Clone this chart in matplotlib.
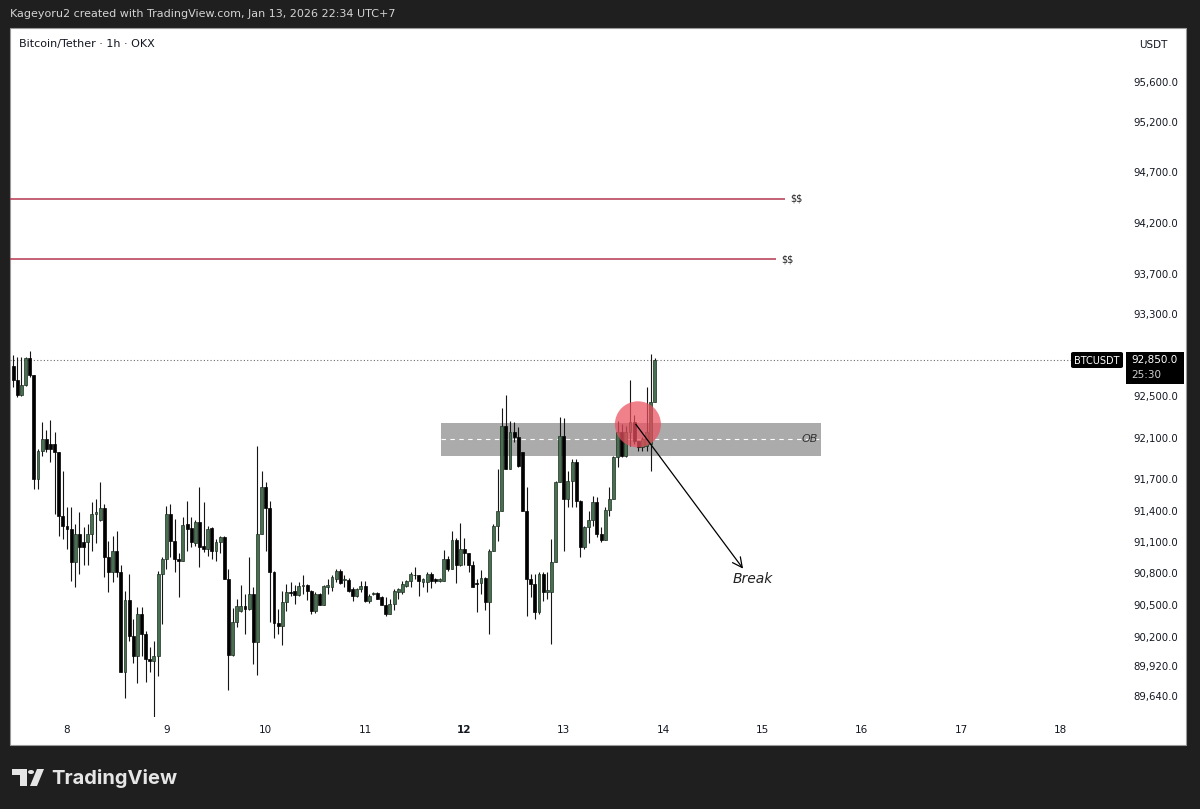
import numpy as np
import pandas as pd
import matplotlib
matplotlib.use('Agg')
import matplotlib.pyplot as plt
import matplotlib.dates as mdates
from matplotlib.patches import Rectangle, Polygon, FancyBboxPatch, Circle
from matplotlib.ticker import FixedLocator, NullLocator, FuncFormatter

# ---------------- data ----------------
start_time = '2026-01-07 11:00'
opens = [92800, 92660, 92515, 92610, 92870, 92705, 91705, 91970, 92085, 92040, 92040, 91960, 91350,
         91255, 91225, 90910, 91180, 91095, 91100, 91180, 91370, 91305, 91425, 90960, 90815, 91015,
         90815, 89870, 90550, 90205, 90015, 90415, 90225, 89985, 89965, 90015, 90795, 90940, 91370,
         91110, 90940, 90920, 91275, 91235, 91085, 91295, 91065, 91035, 91235, 91015, 91100, 91150,
         90750, 90025, 90340, 90445, 90490, 90460, 90605, 90150, 91180, 91630, 91425, 90815, 90330,
         90300, 90530, 90625, 90635, 90595, 90680, 90690, 90635, 90445, 90605, 90500, 90675, 90675,
         90750, 90825, 90740, 90740, 90655, 90585, 90655, 90680, 90540, 90600, 90610, 90575, 90500,
         90415, 90510, 90625, 90625, 90680, 90730, 90785, 90780, 90720, 90720, 90795, 90750, 90730,
         90730, 90940, 90845, 91120, 90875, 91035, 90990, 90875, 90710, 90710, 90760, 90530, 91015,
         91255, 91400, 92210, 91800, 92155, 92105, 91960, 91400, 90750, 90700, 90435, 90795, 90625,
         90625, 90910, 91675, 92115, 91515, 91685, 91865, 91495, 91055, 91245, 91305, 91485, 91180,
         91120, 91410, 91515, 91915, 92160, 91925, 92155, 92250, 92065, 92010, 92020, 92040, 92450]
highs = [92900, 92880, 92880, 92880, 92945, 92710, 91990, 92250, 92180, 92275, 92155, 91965, 91780,
         91435, 91435, 91275, 91390, 91245, 91275, 91485, 91515, 91675, 91465, 91110, 91160, 91200,
         90875, 90635, 90795, 90365, 90480, 90480, 90250, 90100, 90155, 90825, 90960, 91445, 91465,
         91320, 90990, 91340, 91495, 91340, 91305, 91630, 91485, 91255, 91245, 91130, 91155, 91155,
         90845, 90470, 90560, 90690, 90605, 90960, 90675, 92020, 91780, 91675, 91495, 90820, 90460,
         90635, 90700, 90720, 90690, 90720, 90780, 90700, 90640, 90625, 90610, 90685, 90750, 90780,
         90845, 90845, 90780, 90760, 90675, 90660, 90730, 90730, 90605, 90620, 90620, 90585, 90575,
         90560, 90655, 90665, 90730, 90735, 90815, 90865, 90785, 90755, 90815, 90815, 90755, 90760,
         91025, 90970, 91200, 91140, 91285, 91140, 90995, 90920, 90750, 90835, 90765, 91035, 91275,
         91800, 92390, 92515, 92260, 92250, 92200, 91965, 91630, 90795, 90795, 90815, 90815, 90815,
         91130, 91685, 92305, 92295, 91780, 91895, 91895, 91500, 91255, 91400, 91540, 91530, 91245,
         91435, 91630, 91925, 92260, 92230, 92210, 92660, 92325, 92070, 92105, 92590, 92915, 92870]
lows = [92590, 92495, 92505, 92600, 92690, 91610, 91610, 91925, 91960, 91865, 91370, 91160, 91130,
        91035, 90730, 90675, 90795, 90875, 90875, 91015, 91085, 91300, 90770, 90625, 90720, 90770,
        89865, 89620, 90155, 89955, 89765, 90015, 89775, 89870, 89440, 89825, 90320, 90845, 90960,
        90815, 90575, 90915, 91015, 91055, 91065, 90865, 91005, 90970, 90940, 90920, 90990, 90745,
        89700, 90015, 90290, 90435, 90225, 90455, 89945, 89840, 91175, 91015, 90340, 90185, 90225,
        90120, 90445, 90585, 90510, 90585, 90605, 90550, 90415, 90425, 90495, 90495, 90605, 90635,
        90720, 90700, 90675, 90625, 90540, 90580, 90625, 90530, 90520, 90595, 90555, 90495, 90395,
        90410, 90455, 90560, 90605, 90675, 90675, 90750, 90585, 90675, 90625, 90665, 90710, 90720,
        90725, 90825, 90840, 90710, 90870, 90875, 90815, 90675, 90435, 90605, 90455, 90225, 91010,
        91110, 91395, 91795, 91795, 92055, 91820, 91395, 90395, 90575, 90365, 90415, 90540, 90560,
        90130, 90905, 91670, 91015, 91435, 91435, 91435, 90960, 91035, 91085, 91255, 91150, 91100,
        91115, 91350, 91510, 91820, 91915, 91915, 92020, 92040, 91970, 91970, 91970, 91780, 92445]
closes = [92660, 92515, 92610, 92870, 92705, 91705, 91970, 92085, 91990, 91990, 91960, 91350, 91255,
          91225, 90910, 91180, 91055, 91055, 91180, 91370, 91390, 91425, 90960, 90815, 91015, 90815,
          89870, 90550, 90205, 90015, 90415, 90225, 89985, 89965, 90015, 90795, 90940, 91370, 91110,
          90940, 90920, 91265, 91225, 91100, 91295, 91055, 91035, 91225, 91015, 91100, 91150, 90750,
          90025, 90340, 90490, 90490, 90460, 90605, 90150, 91180, 91630, 91425, 90815, 90330, 90300,
          90530, 90625, 90615, 90595, 90680, 90685, 90635, 90445, 90605, 90500, 90680, 90690, 90770,
          90825, 90710, 90750, 90635, 90585, 90655, 90680, 90540, 90585, 90610, 90560, 90500, 90415,
          90510, 90635, 90655, 90700, 90730, 90795, 90780, 90730, 90750, 90795, 90730, 90730, 90750,
          90940, 90845, 91120, 90875, 91035, 90990, 90875, 90675, 90700, 90760, 90530, 91015, 91255,
          91400, 92210, 91800, 92155, 92105, 91830, 91400, 90750, 90700, 90435, 90795, 90625, 90640,
          90910, 91675, 92115, 91515, 91685, 91865, 91495, 91055, 91245, 91305, 91485, 91180, 91120,
          91410, 91515, 91915, 92160, 91925, 92155, 92250, 92065, 92010, 92085, 92155, 92450, 92850]

price_ticks = [95600, 95200, 94700, 94200, 93700, 93300, 92500, 92100,
               91700, 91400, 91100, 90800, 90500, 90200, 89920, 89640]
day_ticks = pd.date_range('2026-01-08', '2026-01-18', freq='D')
day_labels = [str(d.day) for d in day_ticks]

liq_levels = [94435, 93840]
ob_top, ob_mid, ob_bottom = 92240, 92085, 91925
last_price = 92850
countdown = '25:30'

# ---------------- layout helpers ----------------
W, H = 1200, 809
fig = plt.figure(figsize=(12, 8.09), dpi=100, facecolor='#1f1f1f')


def fx(x):
    return x / W


def fy(y):
    return 1 - y / H


t0 = mdates.date2num(pd.Timestamp('2026-01-08'))
HOUR = 1 / 24.0


def at(h):
    return t0 + h * HOUR


# white chart panel
fig.patches.append(Rectangle((fx(10), fy(745)), fx(1186) - fx(10), fy(28) - fy(745),
                             transform=fig.transFigure, facecolor='white',
                             edgecolor='#9a9a9a', lw=0.8, zorder=-1))

ax = fig.add_axes([fx(10), fy(717), fx(1122) - fx(10), fy(28) - fy(717)])
ax.set_facecolor('none')

times = pd.date_range(start_time, periods=len(opens), freq='h')
x = mdates.date2num(times)
o = np.array(opens, float)
h_ = np.array(highs, float)
l_ = np.array(lows, float)
c = np.array(closes, float)
up = c >= o
body_lo = np.minimum(o, c)
body_h = np.maximum(np.abs(c - o), 6)

ax.vlines(x, l_, h_, color='#151515', lw=0.8, zorder=2)
ax.bar(x[up], body_h[up], bottom=body_lo[up], width=0.7 * HOUR,
       color='#467050', edgecolor='#1e2e21', linewidth=0.5, zorder=3)
ax.bar(x[~up], body_h[~up], bottom=body_lo[~up], width=0.7 * HOUR,
       color='#000000', edgecolor='#000000', linewidth=0.5, zorder=3)

# order block
ax.add_patch(Rectangle((at(90.3), ob_bottom), at(182.1) - at(90.3), ob_top - ob_bottom,
                       facecolor='#ababab', edgecolor='none', zorder=1))
ax.hlines(ob_mid, at(90.3), at(182.1), colors='white', linestyles=(0, (4, 4)), lw=0.8, zorder=1.5)
ax.text(at(177.4), ob_mid, 'OB', fontsize=8, style='italic', color='#333333',
        va='center', ha='left', zorder=4)

# liquidity lines
for lvl, end_h, txt_h in zip(liq_levels, [173.4, 171.3], [174.6, 172.6]):
    ax.hlines(lvl, at(-20), at(end_h), colors='#b5364f', lw=1.1, zorder=2)
    ax.text(at(txt_h), lvl, r'\$\$', fontsize=7, color='#222222', va='center', ha='left')

# last price dotted line
ax.axhline(last_price, color='#6b6b6b', ls=(0, (1, 2)), lw=0.8, zorder=1.5)

# highlight circle + arrow
ax.scatter([at(137.9)], [92230], s=1100, color='#eb505f', alpha=0.72,
           edgecolors='none', zorder=4)
ax.annotate('', xy=(at(163.3), 90845), xytext=(at(137.4), 92230),
            arrowprops=dict(arrowstyle='->,head_length=0.7,head_width=0.35',
                            color='black', lw=0.9, shrinkA=0, shrinkB=0), zorder=5)
ax.text(at(160.7), 90745, 'Break', fontsize=10, style='italic', color='#222222',
        va='center', ha='left')

# axes styling
ax.set_yscale('log')
ax.set_ylim(89443, 96143)
ax.set_xlim(at((10 - 67) / 4.14), at((1122 - 67) / 4.14))
ax.yaxis.set_major_locator(FixedLocator(price_ticks))
ax.yaxis.set_minor_locator(NullLocator())
ax.yaxis.set_major_formatter(FuncFormatter(lambda v, p: f'{v:,.1f}'))
ax.yaxis.tick_right()
ax.tick_params(axis='y', which='both', length=0, pad=8, labelsize=7.3, labelcolor='#131722')
ax.set_xticks(mdates.date2num(day_ticks))
ax.set_xticklabels(day_labels)
ax.xaxis.set_minor_locator(NullLocator())
ax.tick_params(axis='x', length=0, pad=6, labelsize=7.5, labelcolor='#131722')
for lab in ax.get_xticklabels():
    if lab.get_text() == '12':
        lab.set_fontweight('bold')
for s in ax.spines.values():
    s.set_visible(False)

# header texts
fig.text(fx(10), fy(14), 'Kageyoru2 created with TradingView.com, Jan 13, 2026 22:34 UTC+7',
         color='#d4d4d4', fontsize=8, va='center', ha='left')
fig.text(fx(19), fy(44), 'Bitcoin/Tether · 1h · OKX', color='#131722', fontsize=8,
         va='center', ha='left')
fig.text(fx(1153), fy(45), 'USDT', color='#131722', fontsize=7.5, va='center', ha='center')

# price labels on axis
fig.patches.append(FancyBboxPatch((fx(1071), fy(368)), fx(1123) - fx(1071), fy(352) - fy(368),
                                  boxstyle='round,pad=0,rounding_size=0.002',
                                  transform=fig.transFigure, facecolor='#000000',
                                  edgecolor='none', zorder=2))
fig.text(fx(1097), fy(360.5), 'BTCUSDT', color='white', fontsize=7, va='center', ha='center',
         zorder=3)
fig.patches.append(Rectangle((fx(1126), fy(384)), fx(1184) - fx(1126), fy(352) - fy(384),
                             transform=fig.transFigure, facecolor='#000000',
                             edgecolor='none', zorder=2))
fig.text(fx(1131), fy(360.5), f'{last_price:,.1f}', color='white', fontsize=7.5,
         va='center', ha='left', zorder=3)
fig.text(fx(1131), fy(375), countdown, color='#cfcfcf', fontsize=7.5,
         va='center', ha='left', zorder=3)

# TradingView logo
logo_col = '#e6e6e6'
fig.patches.append(Polygon([(fx(12), fy(769)), (fx(27), fy(769)), (fx(27), fy(786)),
                            (fx(20), fy(786)), (fx(20), fy(775)), (fx(12), fy(775))],
                           closed=True, transform=fig.transFigure, facecolor=logo_col,
                           edgecolor='none'))
fig.patches.append(Circle((fx(31), fy(772)), 3 / W, transform=fig.transFigure,
                          facecolor=logo_col, edgecolor='none'))
fig.patches.append(Polygon([(fx(30), fy(786)), (fx(37), fy(786)), (fx(44), fy(769)),
                            (fx(37), fy(769))], closed=True, transform=fig.transFigure,
                           facecolor=logo_col, edgecolor='none'))
fig.text(fx(51), fy(778), 'TradingView', color=logo_col, fontsize=14.5, fontweight='bold',
         family='Inter', va='center', ha='left')

fig.savefig('out.png', dpi=100, facecolor=fig.get_facecolor())
